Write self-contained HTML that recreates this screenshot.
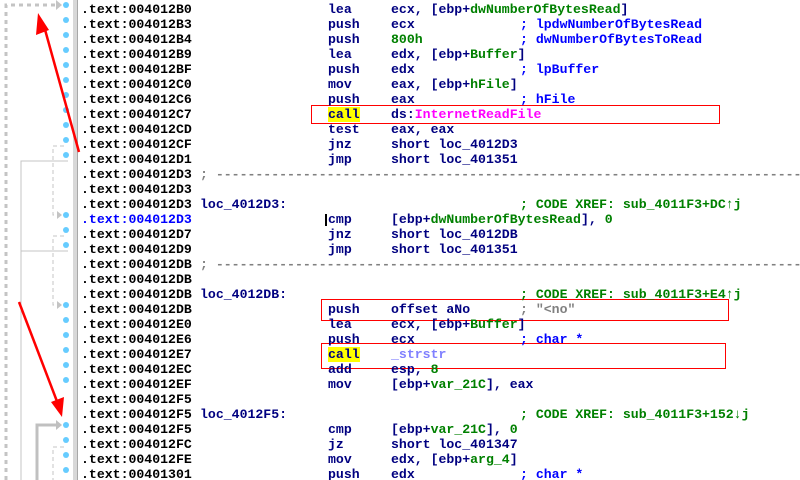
<!DOCTYPE html>
<html><head><meta charset="utf-8"><style>
html,body{margin:0;padding:0;background:#fff;width:800px;height:480px;overflow:hidden;position:relative}
.r{position:absolute;left:0;height:15px;width:800px;font:bold 13.2px "Liberation Mono",monospace;line-height:15px;white-space:pre}
.r span{position:absolute;top:0}
.a{left:81px;color:#000}
.m{left:328px;color:#000080}
.o{left:391px;color:#000080}
.c{left:520px;color:#0000ff}
.l{left:200px;color:#000080}
.s{left:200px;color:#808080}
.g{color:#008000;position:static!important}
.cx{left:520px;color:#008000}
.y{background:#ffff00}
.mg{color:#ff00ff;position:static!important}
.pu{color:#8080ff}
.gr{left:520px;color:#808080}
</style></head><body>
<div style="position:absolute;left:73px;top:0;width:4px;height:480px;background:#d8d8d8"></div>
<div style="position:absolute;left:77px;top:0;width:1px;height:480px;background:#a8a8a8"></div>
<svg width="800" height="480" style="position:absolute;left:0;top:0">
<g fill="#66ccff">
<circle cx="66" cy="5" r="3"/><circle cx="66" cy="20" r="3"/><circle cx="66" cy="35" r="3"/><circle cx="66" cy="50" r="3"/><circle cx="66" cy="65" r="3"/><circle cx="66" cy="80" r="3"/><circle cx="66" cy="95" r="3"/><circle cx="66" cy="110" r="3"/><circle cx="66" cy="125" r="3"/><circle cx="66" cy="140" r="3"/><circle cx="66" cy="155" r="3"/>
<circle cx="66" cy="215" r="3"/><circle cx="66" cy="230" r="3"/><circle cx="66" cy="245" r="3"/>
<circle cx="66" cy="305" r="3"/><circle cx="66" cy="320" r="3"/><circle cx="66" cy="335" r="3"/><circle cx="66" cy="350" r="3"/><circle cx="66" cy="365" r="3"/><circle cx="66" cy="380" r="3"/>
<circle cx="66" cy="425" r="3"/><circle cx="66" cy="440" r="3"/><circle cx="66" cy="455" r="3"/><circle cx="66" cy="470" r="3"/>
</g>
<g stroke="#c4c4c4" stroke-width="3" stroke-dasharray="4,4" fill="none">
<path d="M6 480 V5 H56"/>
</g>
<polygon points="56,0 62,5 56,10" fill="#c4c4c4"/>
<g stroke="#c4c4c4" stroke-width="1" stroke-dasharray="4,3" fill="none">
<path d="M64 146 H53 V215 H58"/>
<path d="M64 236 H53 V305 H58"/>
<path d="M64 447 H53 V480"/>
</g>
<polygon points="57,211 62,215 57,219" fill="#c4c4c4"/>
<polygon points="57,301 62,305 57,309" fill="#c4c4c4"/>
<g stroke="#c4c4c4" stroke-width="1" fill="none">
<path d="M68 161 H21 V480"/>
<path d="M68 251 H21"/>
</g>
<path d="M37 480 V425 H57" stroke="#c0c0c0" stroke-width="3" fill="none"/>
<polygon points="56,420 62,425 56,430" fill="#c0c0c0"/>
<g stroke="#ff0000" stroke-width="2.5" fill="none">
<line x1="79" y1="152" x2="44" y2="26"/>
<line x1="19" y1="302" x2="58" y2="404"/>
</g>
<polygon points="38,13 36,35 49,30" fill="#ff0000"/>
<polygon points="62,417 51,402 64,397" fill="#ff0000"/>
<g stroke="#ff0000" stroke-width="1" fill="none">
<rect x="311.5" y="105.5" width="408" height="18"/>
<rect x="321.5" y="299.5" width="407" height="21"/>
<rect x="321.5" y="343.5" width="404" height="25"/>
</g>
<rect x="325" y="214" width="2" height="12" fill="#000"/>
</svg>

<div class="r" style="top:2px"><span class="a">.text:004012B0</span><span class="m">lea</span><span class="o">ecx, [ebp+<span class="g">dwNumberOfBytesRead</span>]</span></div>
<div class="r" style="top:17px"><span class="a">.text:004012B3</span><span class="m">push</span><span class="o">ecx</span><span class="c">; lpdwNumberOfBytesRead</span></div>
<div class="r" style="top:32px"><span class="a">.text:004012B4</span><span class="m">push</span><span class="o"><span class="g">800h</span></span><span class="c">; dwNumberOfBytesToRead</span></div>
<div class="r" style="top:47px"><span class="a">.text:004012B9</span><span class="m">lea</span><span class="o">edx, [ebp+<span class="g">Buffer</span>]</span></div>
<div class="r" style="top:62px"><span class="a">.text:004012BF</span><span class="m">push</span><span class="o">edx</span><span class="c">; lpBuffer</span></div>
<div class="r" style="top:77px"><span class="a">.text:004012C0</span><span class="m">mov</span><span class="o">eax, [ebp+<span class="g">hFile</span>]</span></div>
<div class="r" style="top:92px"><span class="a">.text:004012C6</span><span class="m">push</span><span class="o">eax</span><span class="c">; hFile</span></div>
<div class="r" style="top:107px"><span class="a">.text:004012C7</span><span class="m y">call</span><span class="o">ds:<span class="mg">InternetReadFile</span></span></div>
<div class="r" style="top:122px"><span class="a">.text:004012CD</span><span class="m">test</span><span class="o">eax, eax</span></div>
<div class="r" style="top:137px"><span class="a">.text:004012CF</span><span class="m">jnz</span><span class="o">short loc_4012D3</span></div>
<div class="r" style="top:152px"><span class="a">.text:004012D1</span><span class="m">jmp</span><span class="o">short loc_401351</span></div>
<div class="r" style="top:167px"><span class="a">.text:004012D3</span><span class="s">; ---------------------------------------------------------------------------</span></div>
<div class="r" style="top:182px"><span class="a">.text:004012D3</span></div>
<div class="r" style="top:197px"><span class="a">.text:004012D3</span><span class="l">loc_4012D3:</span><span class="cx">; CODE XREF: sub_4011F3+DC↑j</span></div>
<div class="r" style="top:212px"><span class="a" style="color:#0000ff">.text:004012D3</span><span class="m">cmp</span><span class="o">[ebp+<span class="g">dwNumberOfBytesRead</span>], <span class="g">0</span></span></div>
<div class="r" style="top:227px"><span class="a">.text:004012D7</span><span class="m">jnz</span><span class="o">short loc_4012DB</span></div>
<div class="r" style="top:242px"><span class="a">.text:004012D9</span><span class="m">jmp</span><span class="o">short loc_401351</span></div>
<div class="r" style="top:257px"><span class="a">.text:004012DB</span><span class="s">; ---------------------------------------------------------------------------</span></div>
<div class="r" style="top:272px"><span class="a">.text:004012DB</span></div>
<div class="r" style="top:287px"><span class="a">.text:004012DB</span><span class="l">loc_4012DB:</span><span class="cx">; CODE XREF: sub_4011F3+E4↑j</span></div>
<div class="r" style="top:302px"><span class="a">.text:004012DB</span><span class="m">push</span><span class="o">offset aNo</span><span class="gr">; "&lt;no"</span></div>
<div class="r" style="top:317px"><span class="a">.text:004012E0</span><span class="m">lea</span><span class="o">ecx, [ebp+<span class="g">Buffer</span>]</span></div>
<div class="r" style="top:332px"><span class="a">.text:004012E6</span><span class="m">push</span><span class="o">ecx</span><span class="c">; char *</span></div>
<div class="r" style="top:347px"><span class="a">.text:004012E7</span><span class="m y">call</span><span class="o pu">_strstr</span></div>
<div class="r" style="top:362px"><span class="a">.text:004012EC</span><span class="m">add</span><span class="o">esp, <span class="g">8</span></span></div>
<div class="r" style="top:377px"><span class="a">.text:004012EF</span><span class="m">mov</span><span class="o">[ebp+<span class="g">var_21C</span>], eax</span></div>
<div class="r" style="top:392px"><span class="a">.text:004012F5</span></div>
<div class="r" style="top:407px"><span class="a">.text:004012F5</span><span class="l">loc_4012F5:</span><span class="cx">; CODE XREF: sub_4011F3+152↓j</span></div>
<div class="r" style="top:422px"><span class="a">.text:004012F5</span><span class="m">cmp</span><span class="o">[ebp+<span class="g">var_21C</span>], <span class="g">0</span></span></div>
<div class="r" style="top:437px"><span class="a">.text:004012FC</span><span class="m">jz</span><span class="o">short loc_401347</span></div>
<div class="r" style="top:452px"><span class="a">.text:004012FE</span><span class="m">mov</span><span class="o">edx, [ebp+<span class="g">arg_4</span>]</span></div>
<div class="r" style="top:467px"><span class="a">.text:00401301</span><span class="m">push</span><span class="o">edx</span><span class="c">; char *</span></div>
</body></html>
